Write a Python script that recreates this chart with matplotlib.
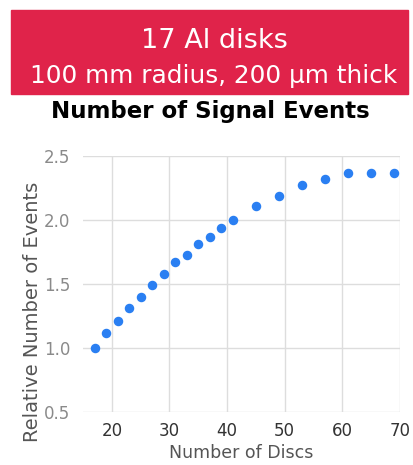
import matplotlib.pyplot as plt
from matplotlib.patches import Rectangle

# data
discs = [17, 19, 21, 23, 25, 27, 29, 31, 33, 35, 37, 39, 41, 45, 49, 53, 57, 61, 65, 69]
rel_events = [1.0, 1.115, 1.21, 1.31, 1.40, 1.49, 1.58, 1.67, 1.73, 1.81,
              1.865, 1.94, 2.0, 2.11, 2.19, 2.27, 2.32, 2.37, 2.365, 2.37]
x_ticks = [20, 30, 40, 50, 60, 70]
y_ticks = [0.5, 1.0, 1.5, 2.0, 2.5]

plt.rcParams['font.family'] = ['DejaVu Sans']

W, H = 413, 465
fig = plt.figure(figsize=(W / 100, H / 100), dpi=100)

# -----------------------------
# Red banner + title
# -----------------------------
fig.patches.append(Rectangle((11 / W, 1 - 94 / H), 397 / W, 84 / H,
                             transform=fig.transFigure, color='#E0234A', zorder=0))
fig.text(214 / W, 1 - 48 / H, "17 Al disks", color='white', fontsize=19.5,
         ha='center', va='baseline')
fig.text(214 / W, 1 - 83 / H, "100 mm radius, 200 µm thick", color='white',
         fontsize=17.8, ha='center', va='baseline')
fig.text(210 / W, 1 - 118 / H, "Number of Signal Events", color='black',
         fontsize=16.5, fontweight='bold', ha='center', va='baseline')

# -----------------------------
# Scatter
# -----------------------------
ax = fig.add_axes([83 / W, 1 - 412 / H, 317 / W, 256 / H])
ax.scatter(discs, rel_events, s=34, color='#2A7FF2', zorder=3, clip_on=False)

ax.set_xlim(15, 70)
ax.set_ylim(0.5, 2.5)
ax.set_xticks(x_ticks)
ax.set_yticks(y_ticks)
ax.set_yticklabels([f"{v:.1f}" for v in y_ticks])
ax.grid(True, color='#DDDDDD', linewidth=1)
ax.set_axisbelow(True)
for s in ax.spines.values():
    s.set_visible(False)
ax.tick_params(length=0, labelsize=12)
ax.tick_params(axis='y', colors='#8A8A8A', pad=9)
ax.tick_params(axis='x', colors='#333333', pad=7)

ax.set_xlabel("Number of Discs", fontsize=12.5, color='#555555', labelpad=3)
ax.set_ylabel("Relative Number of Events", fontsize=14, color='#555555')
ax.yaxis.set_label_coords(-0.13, 0.39)

plt.savefig("out.png", dpi=100)
